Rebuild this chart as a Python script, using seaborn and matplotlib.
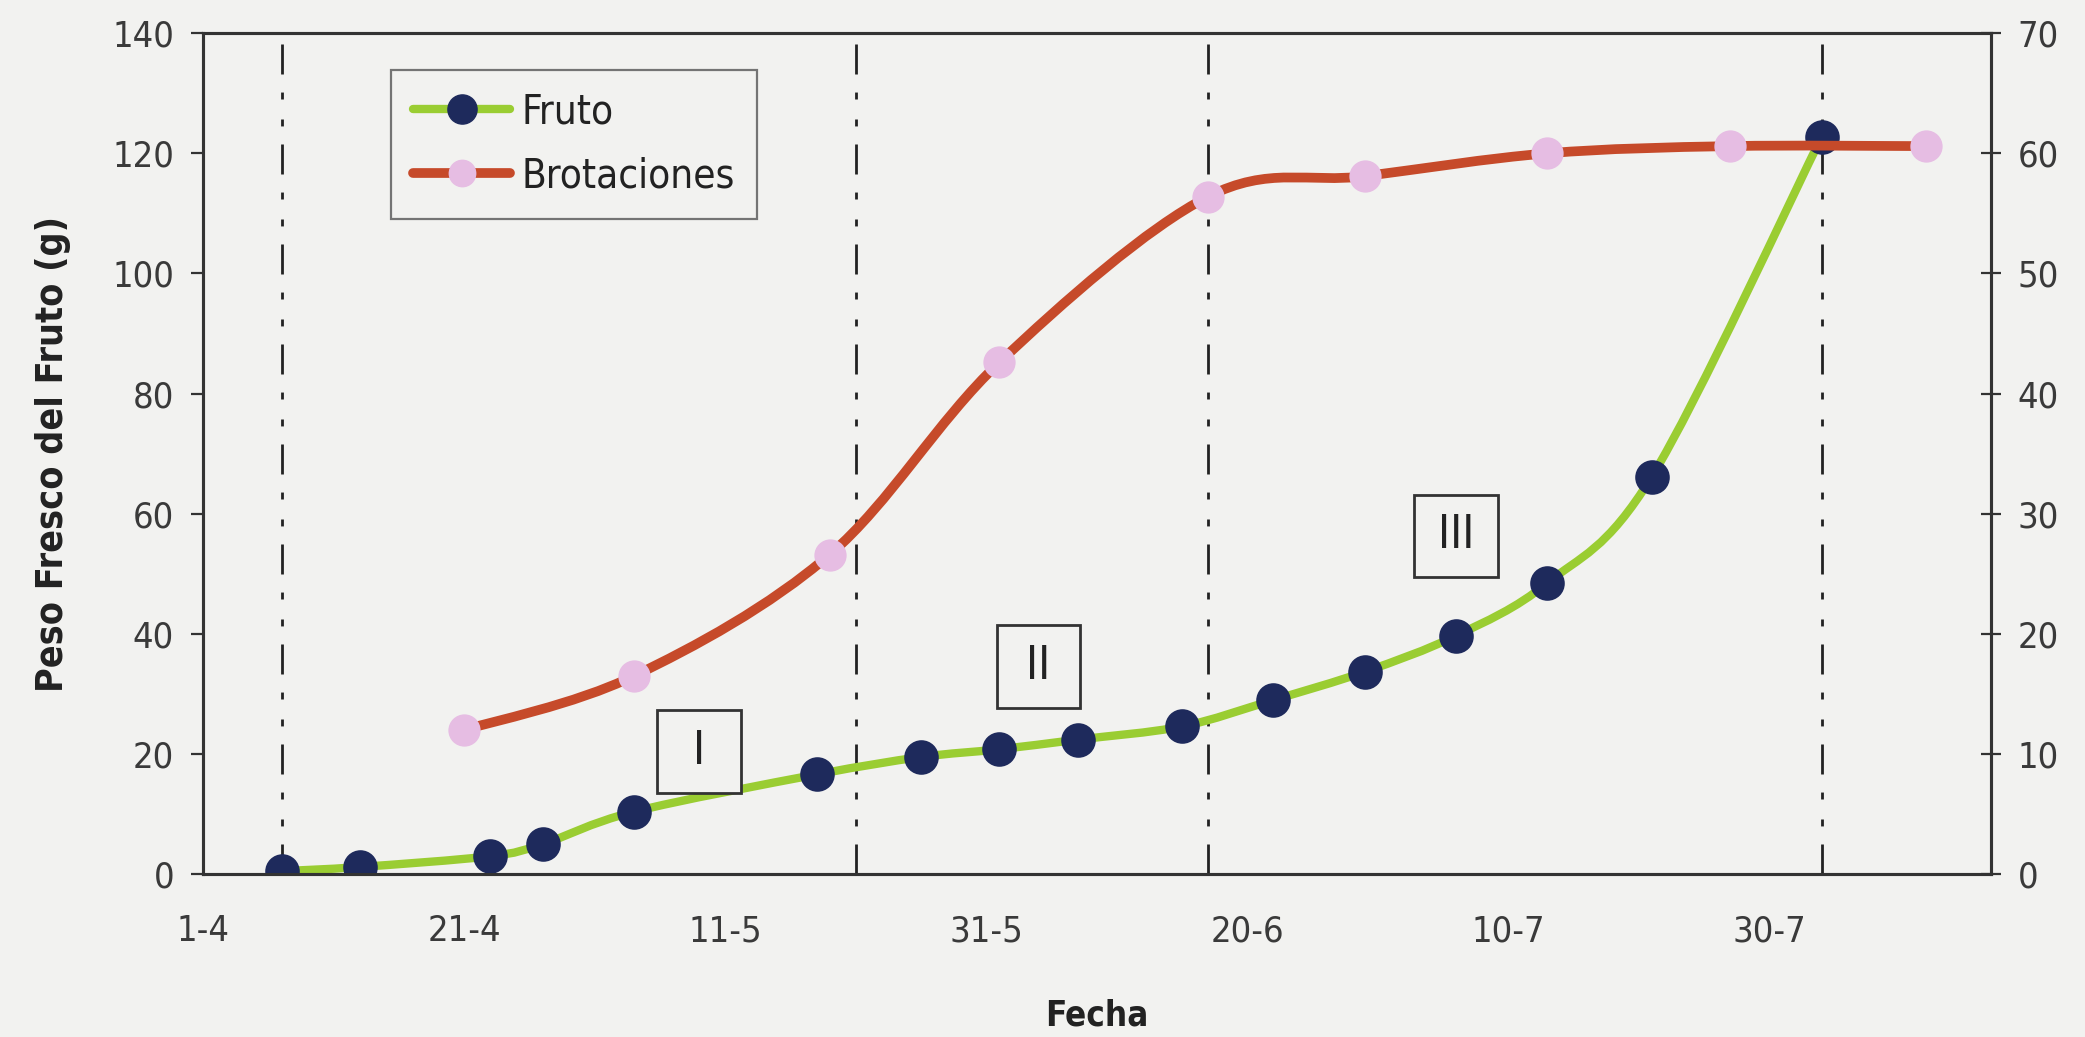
import datetime as dt
import numpy as np
import pandas as pd
import matplotlib
matplotlib.use("Agg")
import matplotlib.pyplot as plt
from matplotlib.path import Path
from matplotlib.patches import PathPatch, Rectangle
from matplotlib.lines import Line2D
import seaborn as sns

# datos
fechas_fruto = ['7-4', '13-4', '23-4', '27-4', '4-5', '18-5', '26-5', '1-6',
                '7-6', '15-6', '22-6', '29-6', '6-7', '13-7', '21-7', '3-8']
peso_fruto = [0.5, 1.2, 3.0, 5.0, 10.4, 16.6, 19.5, 20.8,
              22.4, 24.6, 29.0, 33.7, 39.7, 48.5, 66.2, 122.7]

fechas_brot = ['21-4', '4-5', '19-5', '1-6', '17-6', '29-6', '13-7', '27-7', '11-8']
brotaciones = [12.0, 16.5, 26.6, 42.6, 56.4, 58.1, 60.0, 60.6, 60.6]

fechas_fases = ['7-4', '21-5', '17-6', '3-8']
fases = ['I', 'II', 'III']
fases_fecha = ['9-5', '4-6', '6-7']
fases_y = [20.4, 34.6, 56.3]

ticks_x = ['1-4', '21-4', '11-5', '31-5', '20-6', '10-7', '30-7']

INICIO = dt.date(2000, 4, 1)


def dia(f):
    d, m = f.split('-')
    return (dt.date(2000, int(m), int(d)) - INICIO).days


def curva_suave(x, y):
    # linea suavizada tipo Excel (Catmull-Rom -> Bezier)
    p = np.column_stack([x, y]).astype(float)
    verts = [p[0]]
    codes = [Path.MOVETO]
    n = len(p)
    for i in range(n - 1):
        p0 = p[i - 1] if i > 0 else p[i]
        p3 = p[i + 2] if i + 2 < n else p[i + 1]
        c1 = p[i] + (p[i + 1] - p0) / 6
        c2 = p[i + 1] - (p3 - p[i]) / 6
        verts += [c1, c2, p[i + 1]]
        codes += [Path.CURVE4] * 3
    return Path(verts, codes)


df_fruto = pd.DataFrame({'dia': [dia(f) for f in fechas_fruto], 'peso': peso_fruto})
df_brot = pd.DataFrame({'dia': [dia(f) for f in fechas_brot], 'brot': brotaciones})

sns.set_style("white")
plt.rcParams['font.family'] = ['DejaVu Sans']
plt.rcParams['font.stretch'] = 'condensed'

FONDO = '#f2f2f0'
TXT = '#3a3a3a'
VERDE = '#9acd32'
ROJO = '#c64a2a'
AZUL = '#1e2a5c'
ROSA = '#e6bde3'

fig = plt.figure(figsize=(20.85, 10.37), dpi=100, facecolor=FONDO)
ax = fig.add_axes([0.0975, 0.157, 0.8575, 0.811])
ax.set_facecolor(FONDO)

# lineas verticales de fases
for f in fechas_fases:
    ax.axvline(dia(f), color='#222222', lw=2, dashes=(10.8, 6.5, 2.5, 7.2, 2.5, 6.5), zorder=1)

ax.add_patch(PathPatch(curva_suave(df_fruto['dia'], df_fruto['peso']),
                       fill=False, ec=VERDE, lw=6, zorder=2, capstyle='round'))
sns.scatterplot(data=df_fruto, x='dia', y='peso', ax=ax, color=AZUL, s=620,
                edgecolor=AZUL, linewidth=0, zorder=3)

ax.set_xlim(0, 137)
ax.set_ylim(0, 140)
ax.set_xticks([dia(t) for t in ticks_x])
ax.set_xticklabels(ticks_x)
ax.set_yticks(range(0, 141, 20))

# recuadros de las fases
for nom, f, yv in zip(fases, fases_fecha, fases_y):
    ax.add_patch(Rectangle((dia(f) - 3.2, yv - 6.9), 6.4, 13.8, fc=FONDO,
                           ec='#333333', lw=2, zorder=4))
    ax.text(dia(f), yv, nom, fontsize=33, color='#222222', ha='center', va='center',
            zorder=5)

ax2 = ax.twinx()
ax2.add_patch(PathPatch(curva_suave(df_brot['dia'], df_brot['brot']),
                        fill=False, ec=ROJO, lw=7, zorder=2, capstyle='round'))
sns.scatterplot(data=df_brot, x='dia', y='brot', ax=ax2, color=ROSA, s=540,
                edgecolor=ROSA, linewidth=0, zorder=3)
ax2.set_ylim(0, 70)
ax2.set_yticks(range(0, 71, 10))
ax2.set_ylabel('')
ax2.set_xlim(0, 137)

for a in (ax, ax2):
    for s in a.spines.values():
        s.set_color('#333333')
        s.set_linewidth(2.2)
ax.tick_params(axis='both', direction='out', length=9, width=1.6, color='#333333',
               labelsize=26, labelcolor=TXT, pad=12)
ax.tick_params(axis='x', pad=20)
ax2.tick_params(axis='y', direction='inout', length=14, width=1.6, color='#333333',
                labelsize=26, labelcolor=TXT, pad=12)

ax.set_xlabel('Fecha', fontsize=25, fontweight='bold', color='#222222', labelpad=36)
ax.set_ylabel('Peso Fresco del Fruto (g)', fontsize=27, fontweight='bold',
              color='#222222', labelpad=30)

handles = [Line2D([], [], color=VERDE, lw=6, marker='o', ms=21, mfc=AZUL, mec=AZUL),
           Line2D([], [], color=ROJO, lw=7, marker='o', ms=19, mfc=ROSA, mec=ROSA)]
leg = ax2.legend(handles, ['Fruto', 'Brotaciones'], loc='upper left',
                 bbox_to_anchor=(0.105, 0.956), fontsize=29, frameon=True,
                 fancybox=False, handlelength=2.4, borderpad=0.55, labelspacing=0.6,
                 handletextpad=0.3, borderaxespad=0)
leg.get_frame().set_facecolor(FONDO)
leg.get_frame().set_edgecolor('#555555')
leg.get_frame().set_linewidth(1.6)
for t in leg.get_texts():
    t.set_color('#222222')

fig.savefig('out.png', dpi=100, facecolor=FONDO)
